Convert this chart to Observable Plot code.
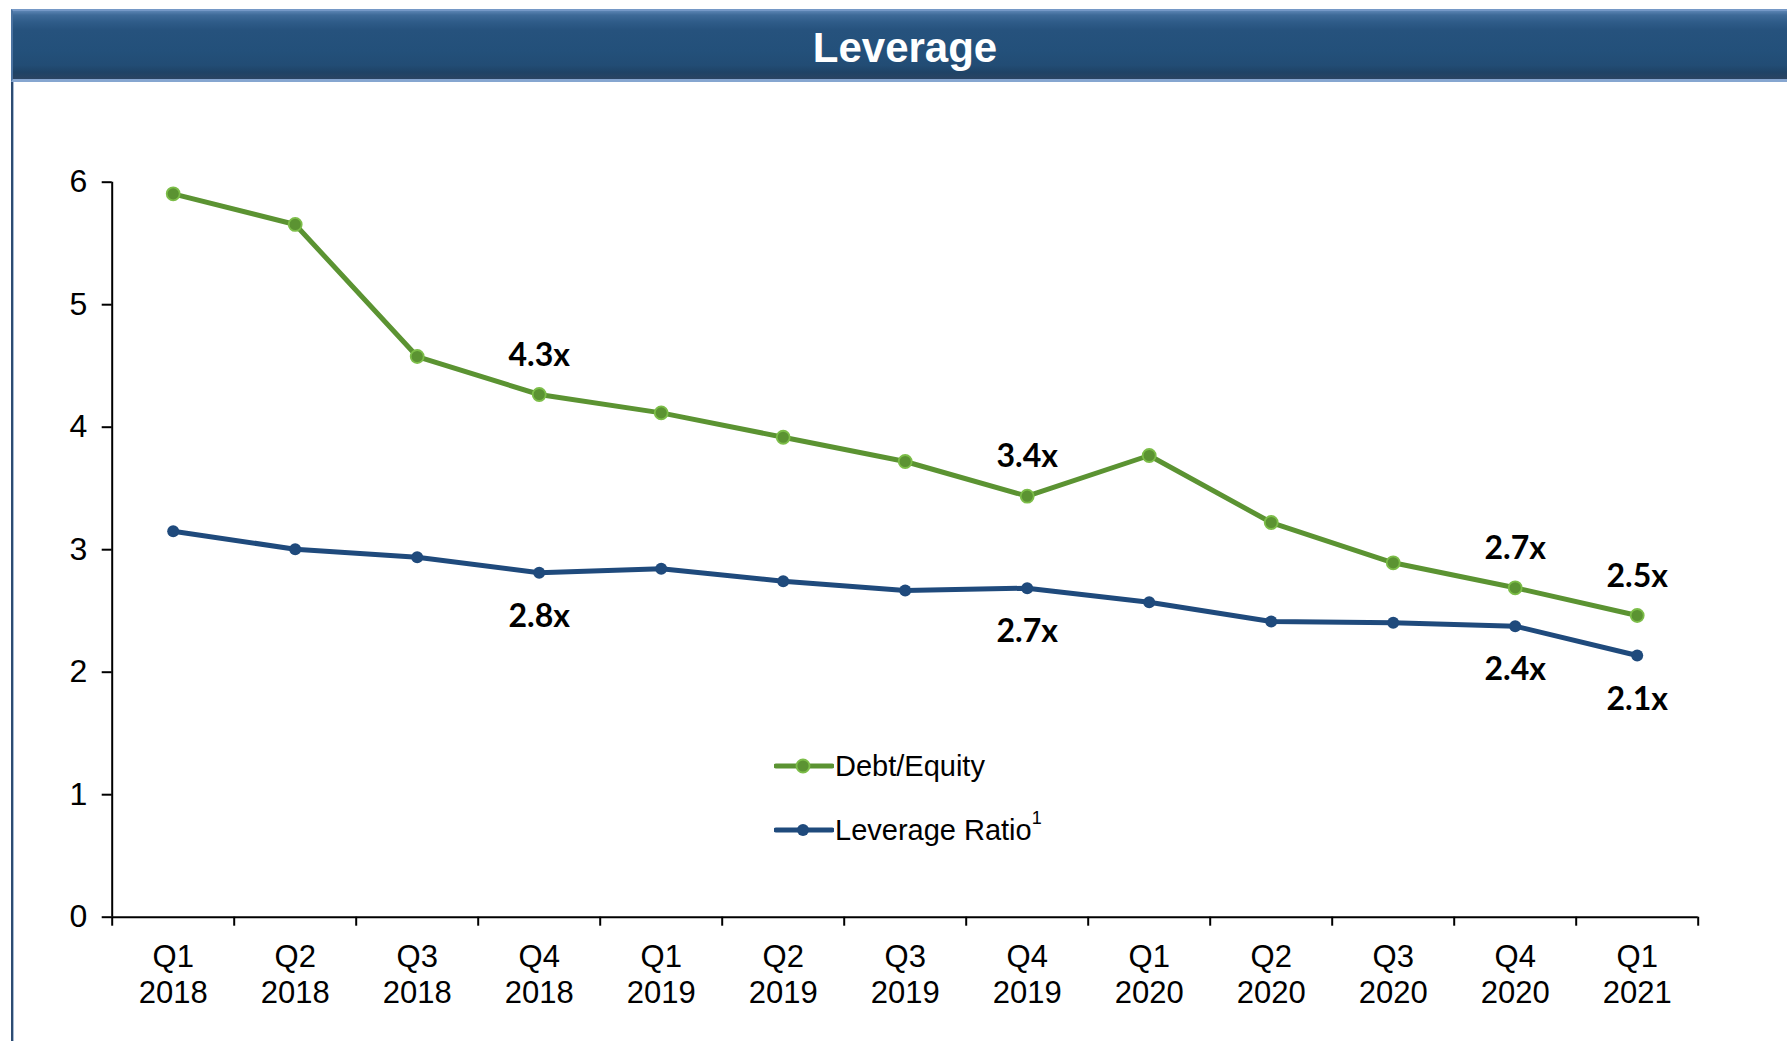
<!DOCTYPE html>
<html>
<head>
<meta charset="utf-8">
<script src="https://cdn.jsdelivr.net/npm/d3@7"></script>
<script src="https://cdn.jsdelivr.net/npm/@observablehq/plot@0.6"></script>
<style>
  html, body { margin: 0; padding: 0; background: #fff; }
  #wrap { position: relative; width: 1787px; height: 1041px; overflow: hidden; background: #fff; font-family: "Liberation Sans", Arial, sans-serif; }
  #header {
    position: absolute; left: 11px; top: 9px; width: 1776px; height: 73px; box-sizing: border-box;
    border-top: 2px solid #7598c6; border-bottom: 3px solid #86a6d0; border-left: 2px solid #4a72a0;
    background: linear-gradient(to bottom, #5a83b2 0%, #3e6a98 6%, #2f5c89 16%, #26527d 28%, #23507a 60%, #224c74 80%, #1f4366 90%, #2a4462 100%);
    color: #fff; font-weight: bold; font-size: 42px; text-align: center; line-height: 73px; padding-left: 10px;
  }
  #leftbar { position: absolute; left: 11px; top: 82px; width: 2px; height: 959px; background: #2d4c72; border-right: 1px solid #a8bbd3; }
  #chart { position: absolute; left: 0; top: 0; }
  .leg { position: absolute; font-size: 29px; line-height: 34px; color: #000; white-space: nowrap; }
  .leg sup { font-size: 18px; position: relative; top: -4px; vertical-align: top; line-height: 18px; }
  .sw { position: absolute; }
</style>
</head>
<body>
<div id="wrap">
  <div id="chart"></div>
  <div id="leftbar"></div>
  <div id="header">Leverage</div>
  <div id="legend"></div>
</div>
<script>
// ---- data ----
const quarters = ["Q1","Q2","Q3","Q4","Q1","Q2","Q3","Q4","Q1","Q2","Q3","Q4","Q1"];
const years = ["2018","2018","2018","2018","2019","2019","2019","2019","2020","2020","2020","2020","2021"];
const debtEquity = [5.905, 5.655, 4.577, 4.267, 4.117, 3.918, 3.720, 3.437, 3.769, 3.222, 2.893, 2.689, 2.463];
const leverageRatio = [3.151, 3.004, 2.939, 2.811, 2.844, 2.743, 2.667, 2.686, 2.571, 2.414, 2.403, 2.376, 2.136];
const deLabels = ["", "", "", "4.3x", "", "", "", "3.4x", "", "", "", "2.7x", "2.5x"];
const lrLabels = ["", "", "", "2.8x", "", "", "", "2.7x", "", "", "", "2.4x", "2.1x"];
const yTicks = [0, 1, 2, 3, 4, 5, 6];
const seriesNames = ["Debt/Equity", "Leverage Ratio"];

const green = "#5b9332", greenLight = "#7cbd48", blue = "#1f4a7c";

const rows = quarters.map((q, i) => ({
  pos: i + 0.5,
  label: q + "\n" + years[i],
  de: debtEquity[i], lr: leverageRatio[i],
  deLabel: deLabels[i], lrLabel: lrLabels[i]
}));
const n = quarters.length;

const chart = Plot.plot({
  width: 1787, height: 1041,
  marginTop: 181.7, marginBottom: 124.3, marginLeft: 111.7, marginRight: 89.3,
  x: {type: "linear", domain: [0, n], axis: null, label: null},
  y: {domain: [0, 6], axis: null, label: null},
  style: {fontFamily: "'Liberation Sans', Arial, sans-serif", fontSize: "31px", color: "#000", background: "transparent", overflow: "visible"},
  marks: [
    Plot.axisY({ticks: yTicks, tickSize: 10, tickPadding: 15, fontSize: 32, strokeWidth: 2, tickFormat: d3.format("d"), label: null}),
    Plot.axisX({ticks: d3.range(0, n + 1), tickSize: 9, tickFormat: () => "", strokeWidth: 2, label: null}),
    Plot.axisX({ticks: rows.map(d => d.pos), tickSize: 0, tickPadding: 23.5, fontSize: 31, lineHeight: 1.18, label: null,
      tickFormat: t => rows[Math.floor(t)].label}),
    Plot.ruleX([0], {stroke: "#000", strokeWidth: 2}),
    Plot.ruleY([0], {stroke: "#000", strokeWidth: 2}),
    Plot.line(rows, {x: "pos", y: "de", stroke: green, strokeWidth: 5}),
    Plot.dot(rows, {x: "pos", y: "de", r: 6.5, fill: green, stroke: greenLight, strokeWidth: 1.8}),
    Plot.line(rows, {x: "pos", y: "lr", stroke: blue, strokeWidth: 5}),
    Plot.dot(rows, {x: "pos", y: "lr", r: 6, fill: blue}),
    Plot.text(rows, {filter: d => d.deLabel, x: "pos", y: "de", text: "deLabel", dy: -39,
      fontFamily: "Lato, 'Open Sans', sans-serif", fontWeight: "bold", fontSize: 32, fill: "#000"}),
    Plot.text(rows, {filter: d => d.lrLabel, x: "pos", y: "lr", text: "lrLabel", dy: 44,
      fontFamily: "Lato, 'Open Sans', sans-serif", fontWeight: "bold", fontSize: 32, fill: "#000"})
  ]
});
document.getElementById("chart").appendChild(chart);

// ---- legend ----
const legend = document.getElementById("legend");
const legItems = [
  {name: seriesNames[0], color: green, ring: greenLight, r: 6.5, cy: 766, sup: ""},
  {name: seriesNames[1], color: blue, ring: null, r: 6, cy: 830, sup: "1"}
];
legItems.forEach(it => {
  const sw = document.createElementNS("http://www.w3.org/2000/svg", "svg");
  sw.setAttribute("class", "sw");
  sw.setAttribute("width", 60); sw.setAttribute("height", 20);
  sw.style.left = "774px"; sw.style.top = (it.cy - 10) + "px";
  sw.innerHTML = `<line x1="2" x2="58" y1="10" y2="10" stroke="${it.color}" stroke-width="5" stroke-linecap="round"/>` +
    `<circle cx="29" cy="10" r="${it.r}" fill="${it.color}" ${it.ring ? `stroke="${it.ring}" stroke-width="1.8"` : ""}/>`;
  legend.appendChild(sw);
  const t = document.createElement("div");
  t.className = "leg";
  t.style.left = "835px"; t.style.top = (it.cy - 17) + "px";
  t.innerHTML = it.name + (it.sup ? `<sup>${it.sup}</sup>` : "");
  legend.appendChild(t);
});
</script>
</body>
</html>
